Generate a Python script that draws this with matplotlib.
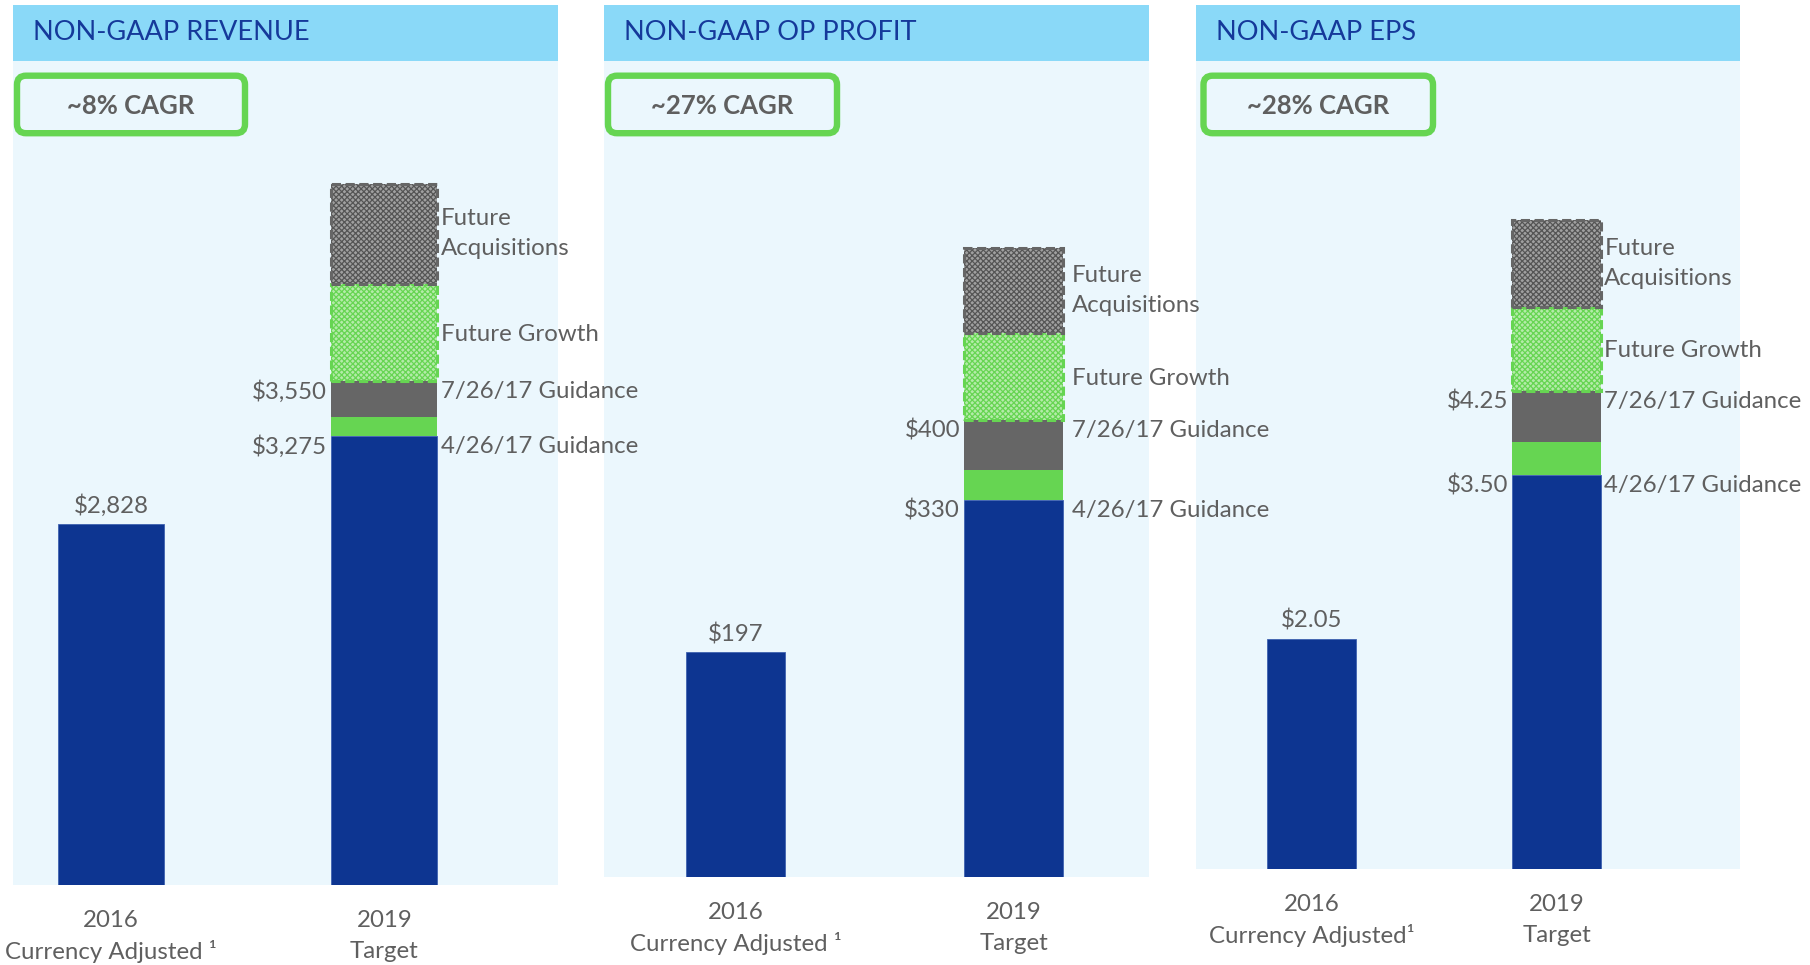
import matplotlib
matplotlib.use("Agg")
import matplotlib.pyplot as plt
from matplotlib.patches import Rectangle, FancyBboxPatch
from matplotlib.transforms import IdentityTransform

plt.rcParams['font.family'] = ['Lato', 'DejaVu Sans']
plt.rcParams['hatch.linewidth'] = 0.9

# ---------------- data ----------------
titles = ["NON-GAAP REVENUE", "NON-GAAP OP PROFIT", "NON-GAAP EPS"]
cagr_labels = ["~8% CAGR", "~27% CAGR", "~28% CAGR"]
years = ["2016", "2019"]
year_subs = [["Currency Adjusted \u00b9", "Target"],
             ["Currency Adjusted \u00b9", "Target"],
             ["Currency Adjusted\u00b9", "Target"]]
actual_2016 = [2828, 197, 2.05]
guidance_apr = [3275, 330, 3.50]
raise_top = [3371, 356, 3.80]
guidance_jul = [3550, 400, 4.25]
future_growth_top = [4043, 476, 5.00]
future_acq_top = [4551, 551, 5.77]
axis_floor = [1000, 0, 0]
axis_ceiling = [5170, 714, 7.18]
value_fmt = ["${:,.0f}", "${:,.0f}", "${:.2f}"]
seg_names = ["4/26/17 Guidance", "7/26/17 Guidance", "Future Growth", "Future\nAcquisitions"]

# ---------------- layout / style ----------------
W, H, DPI = 1810, 965, 100
panel_x = [(12.7, 557.5), (603.7, 1148.5), (1195.9, 1739.5)]
header_top, header_bot = 4.6, 61.2
bg_bottom = [885.3, 877.3, 869.2]
xlims = [(-0.359, 1.633), (-0.476, 1.486), (-0.474, 1.748)]
bar_w = [0.388, 0.356, 0.363]
box_x = [(17, 245), (608, 837), (1203.5, 1433)]
box_y = (75.7, 133.2)
right_off = [2.5, 6.5, 2.5]

HEADER_BG = '#8AD9F8'
PANEL_BG = '#EBF7FD'
TITLE_C = '#15399A'
BLUE = '#0D3591'
GREEN = '#66D552'
GRAY = '#666666'
TEXT = '#5F5F5F'
FS = 17.3

fig = plt.figure(figsize=(W / DPI, H / DPI), dpi=DPI)
fig.patch.set_facecolor('white')

for i in range(3):
    x0, x1 = panel_x[i]
    yb = bg_bottom[i]
    # header band
    fig.patches.append(Rectangle((x0 / W, 1 - header_bot / H), (x1 - x0) / W,
                                 (header_bot - header_top) / H,
                                 transform=fig.transFigure, facecolor=HEADER_BG,
                                 edgecolor='none', zorder=-1))
    fig.text((x0 + 20) / W, 1 - 33 / H, titles[i], color=TITLE_C, fontsize=19.5,
             ha='left', va='center', zorder=10)

    ax = fig.add_axes([x0 / W, 1 - yb / H, (x1 - x0) / W, (yb - header_bot) / H])
    ax.set_zorder(3 - i)
    ax.set_facecolor(PANEL_BG)
    for s in ax.spines.values():
        s.set_visible(False)
    ax.set_xlim(*xlims[i])
    ax.set_ylim(axis_floor[i], axis_ceiling[i])
    ax.set_yticks([])
    ax.set_xticks([])

    w = bar_w[i]
    fl = axis_floor[i]
    # 2016 bar
    ax.bar(0, actual_2016[i] - fl, bottom=fl, width=w, color=BLUE, edgecolor='#3F62B0', linewidth=0.6)
    ax.annotate(value_fmt[i].format(actual_2016[i]), xy=(0, actual_2016[i]),
                xytext=(0, 13), textcoords='offset points', ha='center', va='center',
                fontsize=FS, color=TEXT)
    # 2019 stack
    ax.bar(1, guidance_apr[i] - fl, bottom=fl, width=w, color=BLUE, edgecolor='#3F62B0', linewidth=0.6)
    ax.bar(1, raise_top[i] - guidance_apr[i], bottom=guidance_apr[i], width=w, color=GREEN, linewidth=0)
    ax.bar(1, guidance_jul[i] - raise_top[i], bottom=raise_top[i], width=w, color=GRAY, linewidth=0)
    # future growth (patterned)
    ax.bar(1, future_growth_top[i] - guidance_jul[i], bottom=guidance_jul[i], width=w,
           facecolor='#B4EBA9', edgecolor=GREEN, hatch='xxxxxx', linewidth=0)
    ax.bar(1, future_growth_top[i] - guidance_jul[i], bottom=guidance_jul[i], width=w,
           fill=False, edgecolor=GREEN, linestyle=(0, (3, 1.5)), linewidth=2.2)
    # future acquisitions (patterned)
    ax.bar(1, future_acq_top[i] - future_growth_top[i], bottom=future_growth_top[i], width=w,
           facecolor='#A0A0A0', edgecolor='#555555', hatch='xxxxxx', linewidth=0)
    ax.bar(1, future_acq_top[i] - future_growth_top[i], bottom=future_growth_top[i], width=w,
           fill=False, edgecolor=GRAY, linestyle=(0, (3, 1.5)), linewidth=2.2)

    # left value labels
    for v in (guidance_jul[i], guidance_apr[i]):
        ax.annotate(value_fmt[i].format(v), xy=(1 - w / 2, v), xytext=(-3, -7.5),
                    textcoords='offset points', ha='right', va='center',
                    fontsize=FS, color=TEXT)
    # right segment labels
    ro = right_off[i]
    ax.annotate(seg_names[0], xy=(1 + w / 2, guidance_apr[i]), xytext=(ro, -7.5),
                textcoords='offset points', ha='left', va='center', fontsize=FS, color=TEXT)
    ax.annotate(seg_names[1], xy=(1 + w / 2, guidance_jul[i]), xytext=(ro, -7.5),
                textcoords='offset points', ha='left', va='center', fontsize=FS, color=TEXT)
    ax.annotate(seg_names[2], xy=(1 + w / 2, (guidance_jul[i] + future_growth_top[i]) / 2),
                xytext=(ro, -1), textcoords='offset points', ha='left', va='center',
                fontsize=FS, color=TEXT)
    ax.annotate(seg_names[3], xy=(1 + w / 2, (future_growth_top[i] + future_acq_top[i]) / 2),
                xytext=(ro, 0), textcoords='offset points', ha='left', va='center',
                fontsize=FS, color=TEXT, linespacing=1.55)

    # category labels below
    for j in range(2):
        ax.annotate(years[j], xy=(j, 0), xycoords=('data', 'axes fraction'),
                    xytext=(0, -25.5), textcoords='offset points', ha='center', va='center',
                    fontsize=FS, color=TEXT, annotation_clip=False)
        ax.annotate(year_subs[i][j], xy=(j, 0), xycoords=('data', 'axes fraction'),
                    xytext=(0, -48), textcoords='offset points', ha='center', va='center',
                    fontsize=FS, color=TEXT, annotation_clip=False)

    # CAGR box (pixel coordinates)
    bx0, bx1 = box_x[i]
    by0, by1 = box_y
    box = FancyBboxPatch((bx0, H - by1), bx1 - bx0, by1 - by0,
                         boxstyle="round,pad=0,rounding_size=9",
                         transform=IdentityTransform(), facecolor=PANEL_BG,
                         edgecolor=GREEN, linewidth=4.6, zorder=5)
    fig.patches.append(box)
    fig.text(((bx0 + bx1) / 2) / W, 1 - ((by0 + by1) / 2 + 2) / H, cagr_labels[i],
             fontsize=18.5, fontweight='bold', color=TEXT, ha='center', va='center', zorder=6)

fig.savefig("out.png", dpi=DPI, facecolor='white')
